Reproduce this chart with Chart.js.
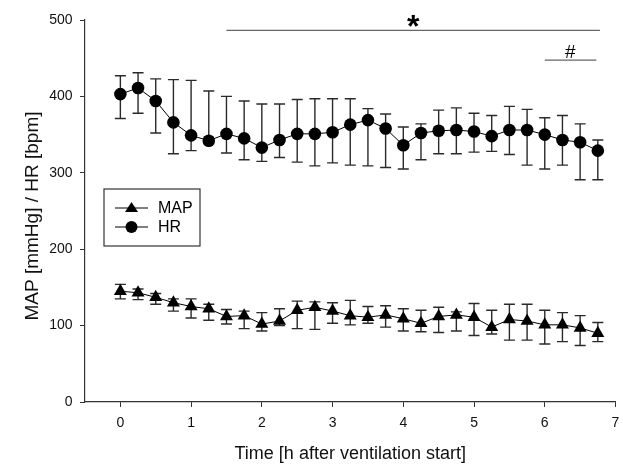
<!DOCTYPE html>
<html>
<head>
<meta charset="utf-8">
<script src="https://cdn.jsdelivr.net/npm/chart.js@4"></script>
<style>
  body { margin:0; background:#fff; }
  #wrap { width:623px; height:464px; position:relative; }
</style>
</head>
<body>
<div id="wrap"><canvas id="chart"></canvas></div>
<script>
// =======================================================
// Données
// =======================================================

const times = [0,0.25,0.5,0.75,1,1.25,1.5,1.75,2,2.25,2.5,2.75,3,3.25,3.5,3.75,4,4.25,4.5,4.75,5,5.25,5.5,5.75,6,6.25,6.5,6.75];

const hrMean  = [403,411,394,366,349,342,351,345,333,343,351,351,353,363,369,358,336,352,355,356,354,348,356,356,350,343,340,329];
const hrUpper = [427,431,423,422,421,407,400,394,390,390,396,397,397,397,384,377,360,364,382,385,378,375,387,383,372,375,364,343];
const hrLower = [371,378,352,325,329,338,326,317,315,320,314,309,313,310,309,307,305,317,325,325,327,328,324,310,305,310,291,291];

const mapMean  = [145,143,137,130,125,122,112,113,102,106,120,124,119,113,111,114,109,103,112,114,111,98,108,106,101,101,97,90];
const mapUpper = [154,148,142,135,135,128,121,119,117,122,132,131,130,133,125,126,122,120,124,118,129,120,128,128,120,117,113,104];
const mapLower = [135,134,128,119,110,107,102,96,93,100,96,95,103,101,103,98,93,92,91,93,87,89,81,81,76,79,74,79];

const xTicks = [0,1,2,3,4,5,6,7];
const yTicks = [0,100,200,300,400,500];

const yTitle = "MAP [mmHg] / HR [bpm]";

// lignes de significativité : label, début, fin, niveau, position du label
const sigLabels = ["*","#"];
const sigStart  = [1.5, 6.0];
const sigEnd    = [6.78, 6.73];
const sigLevel  = [486.5, 447.5];
const sigLabelX = [4.14, 6.36];


// =======================================================
// Barres d'erreur
// =======================================================

const errorBars = {
    id:"errorBars",
    beforeDatasetsDraw(chart){
        const ctx = chart.ctx;
        const xs = chart.scales.x, ys = chart.scales.y;
        ctx.save();
        ctx.strokeStyle = "#2a2a2a";
        ctx.lineWidth = 1.4;
        chart.data.datasets.forEach(ds=>{
            ds.upper.forEach((u,i)=>{
                const px = xs.getPixelForValue(times[i]);
                const top = ys.getPixelForValue(u);
                const bot = ys.getPixelForValue(ds.lower[i]);
                ctx.beginPath();
                ctx.moveTo(px,top); ctx.lineTo(px,bot);
                ctx.moveTo(px-5.5,top); ctx.lineTo(px+5.5,top);
                ctx.moveTo(px-5.5,bot); ctx.lineTo(px+5.5,bot);
                ctx.stroke();
            });
        });
        ctx.restore();
    }
};


// =======================================================
// Annotations (* et #), titre Y, légende
// =======================================================

const extras = {
    id:"extras",
    afterDraw(chart){
        const ctx = chart.ctx;
        const xs = chart.scales.x, ys = chart.scales.y;
        ctx.save();

        sigLabels.forEach((lab,i)=>{
            const y = ys.getPixelForValue(sigLevel[i]);
            ctx.strokeStyle = "#666";
            ctx.lineWidth = 1.2;
            ctx.beginPath();
            ctx.moveTo(xs.getPixelForValue(sigStart[i]),y);
            ctx.lineTo(xs.getPixelForValue(sigEnd[i]),y);
            ctx.stroke();
            ctx.fillStyle = "#000";
            ctx.textAlign = "center";
            ctx.textBaseline = "alphabetic";
            if (lab === "*"){
                ctx.font = "bold 32px 'Liberation Sans'";
                ctx.fillText(lab, xs.getPixelForValue(sigLabelX[i]), y+7);
            } else {
                ctx.font = "19px 'Liberation Sans'";
                ctx.fillText(lab, xs.getPixelForValue(sigLabelX[i]), y-2);
            }
        });

        // titre de l'axe Y
        ctx.save();
        ctx.translate(33, 216);
        ctx.rotate(-Math.PI/2);
        ctx.fillStyle = "#111";
        ctx.font = "19px 'Liberation Sans'";
        ctx.textAlign = "center";
        ctx.textBaseline = "middle";
        ctx.fillText(yTitle, 0, 0);
        ctx.restore();

        // légende
        const left = chart.chartArea.left;
        const bx = left+19, by = 189;
        ctx.strokeStyle = "#333";
        ctx.lineWidth = 1.2;
        ctx.strokeRect(bx, by, 96, 57);
        chart.data.datasets.forEach((ds,i)=>{
            const y = by + 19 + i*19;
            ctx.strokeStyle = "#000";
            ctx.lineWidth = 1;
            ctx.beginPath();
            ctx.moveTo(bx+11,y); ctx.lineTo(bx+44,y);
            ctx.stroke();
            ctx.fillStyle = "#000";
            ctx.beginPath();
            if (ds.pointStyle === "triangle"){
                ctx.moveTo(bx+27.5,y-6); ctx.lineTo(bx+34,y+4); ctx.lineTo(bx+21,y+4);
            } else {
                ctx.arc(bx+27.5,y,6,0,Math.PI*2);
            }
            ctx.closePath();
            ctx.fill();
            ctx.font = "16px 'Liberation Sans'";
            ctx.textAlign = "left";
            ctx.textBaseline = "middle";
            ctx.fillText(ds.label, bx+54, y+1);
        });

        ctx.restore();
    }
};


// =======================================================
// Graphique
// =======================================================

function drawChart(){

    new Chart(document.getElementById("chart"),{

        type:"line",

        data:{
            datasets:[{
                label:"MAP",
                data:times.map((t,i)=>({x:t,y:mapMean[i]})),
                upper:mapUpper,
                lower:mapLower,
                pointStyle:"triangle",
                pointRadius:7.5,
                borderColor:"#000",
                borderWidth:1,
                backgroundColor:"#000",
                pointBorderWidth:0
            },{
                label:"HR",
                data:times.map((t,i)=>({x:t,y:hrMean[i]})),
                upper:hrUpper,
                lower:hrLower,
                pointStyle:"circle",
                pointRadius:6.3,
                borderColor:"#000",
                borderWidth:1,
                backgroundColor:"#000",
                pointBorderWidth:0
            }]
        },

        options:{
            responsive:true,
            maintainAspectRatio:false,
            animation:false,
            layout:{ padding:{ top:20, right:-1, left:0, bottom:0 } },
            plugins:{
                legend:{display:false},
                tooltip:{enabled:false}
            },
            scales:{
                x:{
                    type:"linear",
                    min:-0.5,
                    max:7,
                    afterBuildTicks:s=>{ s.ticks = xTicks.map(v=>({value:v})); },
                    afterFit:s=>{ s.height = 62; s.paddingRight = 0; s.paddingLeft = 0; },
                    grid:{ drawOnChartArea:false, drawTicks:true, tickLength:5, color:"#333" },
                    border:{ color:"#333", width:1.2 },
                    ticks:{ color:"#111", padding:8, maxRotation:0, font:{ family:"Liberation Sans", size:14 } },
                    title:{ display:true, text:"Time [h after ventilation start]", color:"#111",
                            padding:{ top:0, bottom:-1 }, font:{ family:"Liberation Sans", size:18 } }
                },
                y:{
                    min:0,
                    max:500,
                    afterBuildTicks:s=>{ s.ticks = yTicks.map(v=>({value:v})); },
                    afterFit:s=>{ s.width = 85; s.paddingTop = 0; s.paddingBottom = 0; },
                    grid:{ drawOnChartArea:false, drawTicks:true, tickLength:5, color:"#333" },
                    border:{ color:"#333", width:1.2 },
                    ticks:{ color:"#111", padding:7.5, font:{ family:"Liberation Sans", size:14 } }
                }
            }
        },

        plugins:[errorBars, extras]

    });

}

window.addEventListener("load", drawChart);
</script>
</body>
</html>
